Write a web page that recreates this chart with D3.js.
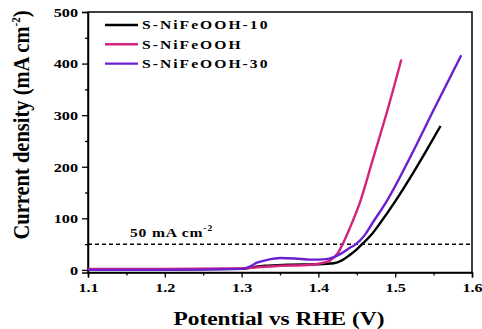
<!DOCTYPE html>
<html>
<head>
<meta charset="utf-8">
<script src="https://cdn.jsdelivr.net/npm/d3@7"></script>
<style>
  html, body { margin: 0; padding: 0; background: #fff; }
  svg { display: block; }
  text { font-family: "Liberation Serif", "Times New Roman", serif; font-weight: bold; fill: #000; }
</style>
</head>
<body>
<svg id="chart" width="482" height="329"></svg>
<script>
// LSV polarization curves: potential (V vs RHE) and current density (mA cm^-2)
const seriesNames = ["S-NiFeOOH-10", "S-NiFeOOH", "S-NiFeOOH-30"];
const seriesColors = ["#000000", "#d4237f", "#6a1fd0"];

const potential10 = [1.10, 1.20, 1.30, 1.31, 1.33, 1.36, 1.40, 1.42, 1.43, 1.44, 1.45, 1.457, 1.47, 1.48, 1.50, 1.52, 1.54, 1.559];
const current10   = [0,    1,    2,    4,    8,    10,   11,   13,   18,   28,   40,   50,    70,   90,   133,  180,  230,  279];

const potentialBase = [1.10, 1.20, 1.30, 1.32, 1.35, 1.38, 1.40, 1.415, 1.425, 1.4316, 1.44, 1.455, 1.47, 1.49, 1.508];
const currentBase   = [2,    2,    3,    5,    8,    9,    12,   18,    32,    50,     78,   135,   210,  310,  408];

const potential30 = [1.10, 1.20, 1.30, 1.31, 1.32, 1.335, 1.35, 1.37, 1.39, 1.41, 1.42, 1.43, 1.44, 1.449, 1.46, 1.47, 1.49, 1.52, 1.55, 1.586];
const current30   = [0,    0,    2,    6,    14,   20,    23,   22,   20,   21,   25,   32,   42,   50,    67,   90,   136,  220,  310,  416];

const xTicks = [1.1, 1.2, 1.3, 1.4, 1.5, 1.6];
const yTicks = [0, 100, 200, 300, 400, 500];
const referenceCurrent = 50;

const series = [
  { name: seriesNames[0], color: seriesColors[0], x: potential10,   y: current10 },
  { name: seriesNames[1], color: seriesColors[1], x: potentialBase, y: currentBase },
  { name: seriesNames[2], color: seriesColors[2], x: potential30,   y: current30 }
];

const svg = d3.select("#chart");
const plotLeft = 88, plotRight = 472, plotTop = 12, plotBottom = 272.5;
const textStretch = 1.2;   // wide lettering

// widen a text element horizontally about its own anchor point
function widen(sel, sx) {
  sel.each(function () {
    const t = d3.select(this);
    const ax = +t.attr("x") || 0;
    t.attr("transform", `translate(${ax},0) scale(${sx},1) translate(${-ax},0)`);
  });
}

const x = d3.scaleLinear().domain([1.1, 1.6]).range([plotLeft, plotRight]);
const y = d3.scaleLinear().domain([-5, 500]).range([plotBottom, plotTop]);

// minor ticks
const xMinor = d3.range(1.15, 1.6, 0.1);
const yMinor = d3.range(50, 500, 100);

const gx = svg.append("g").attr("transform", `translate(0,${plotBottom})`);
gx.call(d3.axisBottom(x).tickValues(xTicks).tickFormat(d3.format(".1f")).tickSize(5).tickPadding(5));
gx.append("g").call(d3.axisBottom(x).tickValues(xMinor).tickFormat("").tickSize(3)).select(".domain").remove();

const gy = svg.append("g").attr("transform", `translate(${plotLeft},0)`);
gy.call(d3.axisLeft(y).tickValues(yTicks).tickFormat(d3.format("d")).tickSize(6).tickPadding(4));
gy.append("g").call(d3.axisLeft(y).tickValues(yMinor).tickFormat("").tickSize(3)).select(".domain").remove();

svg.selectAll(".domain").attr("stroke", "#000").attr("stroke-width", 1.5);
svg.selectAll(".tick line").attr("stroke", "#000").attr("stroke-width", 1.3);
svg.selectAll(".tick text")
  .style("font-family", '"Liberation Serif", serif')
  .style("font-weight", "bold")
  .style("font-size", "13.5px")
  .call(widen, textStretch);

// frame: top and right edges
svg.append("rect")
  .attr("x", plotLeft).attr("y", plotTop)
  .attr("width", plotRight - plotLeft).attr("height", plotBottom - plotTop)
  .attr("fill", "none").attr("stroke", "#000").attr("stroke-width", 1.5);

// 50 mA cm^-2 reference line
svg.append("line")
  .attr("x1", x(1.1)).attr("x2", x(1.6))
  .attr("y1", y(referenceCurrent)).attr("y2", y(referenceCurrent))
  .attr("stroke", "#000").attr("stroke-width", 1.5).attr("stroke-dasharray", "4,3");

const refLabel = svg.append("text").attr("x", 130).attr("y", y(referenceCurrent) - 7)
  .style("font-size", "13px").style("letter-spacing", "0.7px");
refLabel.append("tspan").text("50 mA cm");
refLabel.append("tspan").attr("dy", -6).style("font-size", "8px").text("-2");
refLabel.call(widen, textStretch);

// curves
const line = d3.line().x(d => x(d[0])).y(d => y(d[1])).curve(d3.curveMonotoneX);
series.forEach(s => {
  svg.append("path")
    .datum(s.x.map((v, i) => [v, s.y[i]]))
    .attr("fill", "none")
    .attr("stroke", s.color)
    .attr("stroke-width", 2.4)
    .attr("stroke-linejoin", "round")
    .attr("d", line);
});

// legend
const legend = svg.append("g");
series.forEach((s, i) => {
  const ly = 25 + i * 19.3;
  legend.append("line").attr("x1", 105).attr("x2", 138).attr("y1", ly).attr("y2", ly)
    .attr("stroke", s.color).attr("stroke-width", 2.4);
  legend.append("text").attr("x", 142).attr("y", ly + 4.5)
    .style("font-size", "13px").style("letter-spacing", "1.7px").text(s.name)
    .call(widen, textStretch);
});

// axis titles
svg.append("text")
  .attr("x", 279).attr("y", 325)
  .attr("text-anchor", "middle")
  .style("font-size", "19.5px")
  .text("Potential vs RHE (V)")
  .call(widen, textStretch);

const yTitle = svg.append("text")
  .attr("transform", `translate(29,125) scale(1.15,1) rotate(-90)`)
  .attr("text-anchor", "middle")
  .style("font-size", "20.5px");
yTitle.append("tspan").text("Current density (mA cm");
yTitle.append("tspan").attr("dy", -8).style("font-size", "11px").text("-2");
yTitle.append("tspan").attr("dy", 8).text(")");
</script>
</body>
</html>
